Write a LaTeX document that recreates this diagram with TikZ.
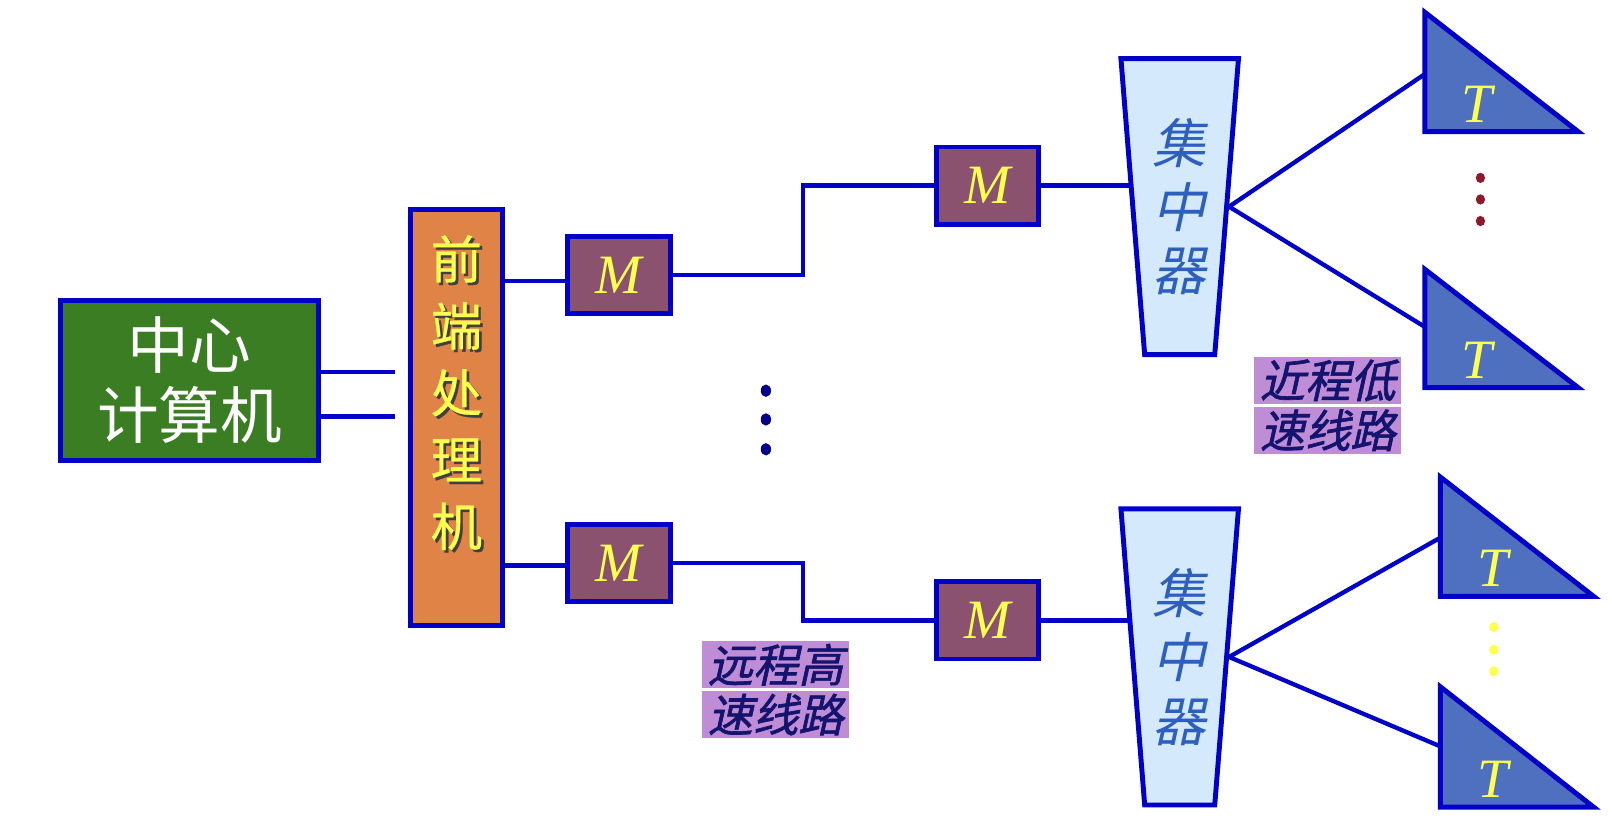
\documentclass[tikz,border=0pt]{standalone}
\usepackage{fontspec}
\setmainfont{Liberation Serif}
\newfontfamily\cjk{Noto Sans CJK SC}
\newfontfamily\cjkmid[FakeBold=0.6]{Noto Sans CJK SC}
\newfontfamily\cjkslant[FakeSlant=0.22]{Noto Sans CJK SC}
\newfontfamily\cjkslantbf[FakeSlant=0.22, FakeBold=1.4]{Noto Sans CJK SC}
\usetikzlibrary{shapes.geometric, calc}
\definecolor{wireblue}{RGB}{0,0,200}
\definecolor{hostgreen}{RGB}{58,125,35}
\definecolor{feporange}{RGB}{223,131,70}
\definecolor{modemmauve}{RGB}{139,82,112}
\definecolor{concfill}{RGB}{212,234,252}
\definecolor{conctext}{RGB}{45,95,190}
\definecolor{termblue}{RGB}{79,112,190}
\definecolor{lblpurple}{RGB}{191,140,214}
\definecolor{lbltext}{RGB}{20,20,110}
\definecolor{labelyellow}{RGB}{255,255,80}
\definecolor{dotnavy}{RGB}{0,0,140}
\definecolor{dotred}{RGB}{140,25,45}
\newcommand{\shadowed}[1]{\rlap{\kern2.5pt\raisebox{-2.5pt}{\color{black!75}#1}}#1}

\begin{document}
\begin{tikzpicture}[
  x=1pt, y=-1pt,
  hostbox/.style={draw=wireblue, line width=4.8pt, fill=hostgreen, minimum width=251pt, minimum height=156pt, align=center, text=white, font={\cjk\fontsize{60}{68}\selectfont}},
  fepbox/.style={draw=wireblue, line width=4.8pt, fill=feporange, minimum width=90pt, minimum height=404pt, inner sep=0pt, text=labelyellow, font={\cjkmid\fontsize{50}{65}\selectfont}},
  modem/.style={draw=wireblue, line width=4.8pt, fill=modemmauve, minimum width=100pt, minimum height=75pt, inner sep=0pt, text=labelyellow, font={\itshape\fontsize{54}{54}\selectfont}},
  concbox/.style={trapezium, trapezium left angle=95.85, trapezium right angle=95.85, trapezium stretches=true, minimum width=115pt, minimum height=288pt, draw=wireblue, line width=4.8pt, fill=concfill, inner sep=0pt, align=center, text=conctext, font={\cjkslant\fontsize{52}{62}\selectfont}},
  term/.style={draw=wireblue, line width=4.8pt, fill=termblue},
  tlabel/.style={inner sep=0pt, text=labelyellow, font={\itshape\fontsize{54}{54}\selectfont}},
  lblbox/.style={fill=lblpurple, minimum width=143pt, minimum height=46pt, inner sep=0pt, text=lbltext, font={\cjkslantbf\fontsize{44}{46}\selectfont}},
  link/.style={draw=wireblue, line width=4.2pt}
]
  \useasboundingbox (0,0) rectangle (1568,807);

  % main blocks
  \node[hostbox] (host) at (184.5,370) {中心\\计算机};
  \node[fepbox] (fep) at (444,406) {\raisebox{18pt}[\height][\depth]{\begin{tabular}{@{}c@{}}\shadowed{前}\\\shadowed{端}\\\shadowed{处}\\\shadowed{理}\\\shadowed{机}\end{tabular}}};

  % modems
  \node[modem] (m1) at (602,267.5) {M};
  \node[modem] (m2) at (602,547.5) {M};
  \node[modem] (m3) at (960.5,180.5) {M};
  \node[modem] (m4) at (960.5,603.5) {M};

  % concentrators
  \node[concbox] (conc1) at (1147.5,201) {集\\中\\器};
  \node[concbox] (conc2) at (1147.5,639) {集\\中\\器};

  % terminals
  \draw[term] (1386,12) -- (1386,128) -- (1535,128) -- cycle;
  \draw[term] (1386,262) -- (1386,377) -- (1535,377) -- cycle;
  \draw[term] (1401,464) -- (1401,580) -- (1550,580) -- cycle;
  \draw[term] (1401,668) -- (1401,785) -- (1550,785) -- cycle;
  \node[tlabel] (t1) at (1437,101) {T};
  \node[tlabel] (t2) at (1437,350) {T};
  \node[tlabel] (t3) at (1452,553) {T};
  \node[tlabel] (t4) at (1452,758) {T};
  \coordinate (t1in) at (1386,72);
  \coordinate (t2in) at (1386,318);
  \coordinate (t3in) at (1401,523);
  \coordinate (t4in) at (1401,726);

  % line labels
  \node[lblbox] (near1) at (1291.5,370) {近程低};
  \node[lblbox] (near2) at (1291.5,418.5) {速线路};
  \node[lblbox] (far1) at (754.5,646.5) {远程高};
  \node[lblbox] (far2) at (754.5,695) {速线路};

  % connections
  \draw[link, shorten >=12pt] ([yshift=8pt]host.east) -- ([yshift=8pt]host.east -| fep.west);
  \draw[link, shorten >=12pt] ([yshift=-35pt]host.east) -- ([yshift=-35pt]host.east -| fep.west);
  \draw[link] ([yshift=-6pt]m1.west -| fep.east) -- ([yshift=-6pt]m1.west);
  \draw[link] ([yshift=-2.5pt]m2.west -| fep.east) -- ([yshift=-2.5pt]m2.west);
  \draw[link] (m1.east) -| ($(m1.east)!0.5!(m3.west)$) |- (m3.west);
  \draw[link] (m2.east) -| ($(m2.east)!0.5!(m4.west)$) |- (m4.west);
  \draw[link] (m3.east) -- (m3.east -| conc1.west);
  \draw[link] (m4.east) -- (m4.east -| conc2.west);
  \draw[link] (conc1.east) -- (t1in);
  \draw[link] (conc1.east) -- (t2in);
  \draw[link] (conc2.east) -- (t3in);
  \draw[link] (conc2.east) -- (t4in);

  % dots
  \foreach \y in {380,408,437} \fill[dotnavy] (745,\y) ellipse (5pt and 6pt);
  \foreach \y in {173,194,215} \fill[dotred] (1440,\y) ellipse (4.5pt and 5pt);
  \foreach \y in {610,632,653} \fill[labelyellow] (1453,\y) ellipse (4.5pt and 5pt);
\end{tikzpicture}
\end{document}
